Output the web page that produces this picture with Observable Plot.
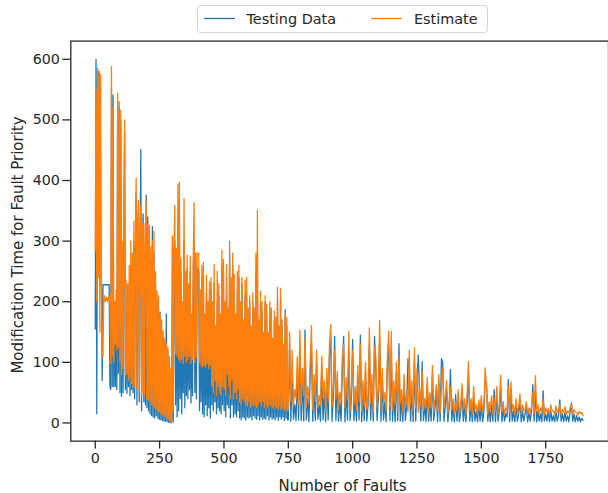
<!DOCTYPE html>
<html>
<head>
<meta charset="utf-8">
<script src="https://cdn.jsdelivr.net/npm/d3@7"></script>
<script src="https://cdn.jsdelivr.net/npm/@observablehq/plot@0.6"></script>
<style>
  html, body { margin: 0; padding: 0; background: #fff; overflow: hidden; }
  #wrap { position: relative; width: 608px; height: 493px; overflow: hidden; font-family: "DejaVu Sans", sans-serif; }
  #chart { position: absolute; left: 0; top: 0; }
  #overlay { position: absolute; left: 0; top: 0; pointer-events: none; }
</style>
</head>
<body>
<div id="wrap">
  <div id="chart"></div>
  <svg id="overlay" width="608" height="493"></svg>
</div>
<script>
// ---- data ----
// Faults 0-747 read every 3 faults; faults 750-1895 read every 5 faults.
const denseStart = 0, denseStep = 3;
const sparseStart = 750, sparseStep = 5;
const xTicks = [0, 250, 500, 750, 1000, 1250, 1500, 1750];
const yTicks = [0, 100, 200, 300, 400, 500, 600];
const seriesNames = ["Testing Data", "Estimate"];
const seriesColors = ["#1f77b4", "#ff7f0e"];

// Testing Data, faults 0-297 (step 3)
const testEarly = [
  155, 600, 15, 583, 560, 580, 228, 228, 228, 70,
  228, 228, 228, 228, 228, 228, 228, 228, 228, 60,
  55, 552, 60, 541, 60, 180, 60, 200, 55, 530,
  82, 522, 50, 500, 44, 280, 50, 300, 480, 55,
  200, 49, 210, 60, 230, 45, 270, 55, 240, 50,
  300, 40, 280, 380, 30, 300, 340, 35, 280, 451,
  20, 300, 345, 35, 280, 30, 376, 25, 340, 20,
  300, 15, 270, 12, 324, 10, 280, 8, 230, 12,
  200, 8, 190, 6, 183, 5, 150, 4, 140, 3,
  130, 3, 180, 2, 120, 1, 100, 0, 80, 1
];
// Testing Data, faults 300-597 (step 3)
const testMid = [
  308, 2, 285, 300, 30, 270, 10, 330, 20, 300,
  40, 250, 15, 190, 50, 300, 25, 230, 45, 255,
  40, 210, 55, 250, 33, 170, 45, 260, 300, 50,
  260, 40, 250, 255, 250, 20, 200, 35, 240, 15,
  230, 10, 170, 30, 215, 12, 190, 25, 220, 8,
  220, 30, 190, 20, 230, 35, 150, 15, 200, 25,
  210, 20, 170, 15, 260, 30, 250, 20, 190, 10,
  240, 30, 180, 25, 280, 8, 220, 30, 260, 10,
  210, 15, 170, 10, 220, 20, 240, 8, 190, 5,
  230, 10, 160, 8, 212, 5, 220, 10, 180, 8
];
// Testing Data, faults 600-747 (step 3)
const testLate = [
  200, 10, 150, 5, 200, 12, 180, 8, 250, 6,
  250, 12, 160, 5, 200, 10, 185, 6, 140, 8,
  200, 6, 180, 12, 140, 5, 190, 10, 175, 6,
  130, 8, 170, 5, 160, 10, 200, 4, 150, 10,
  205, 6, 160, 10, 120, 4, 187, 8, 160, 5
];
// Testing Data, faults 750-995 (step 5)
const testTail1 = [
  5, 130, 3, 90, 6, 30, 4, 80, 5, 120,
  4, 70, 3, 153, 5, 40, 2, 80, 130, 3,
  60, 4, 100, 6, 30, 3, 95, 5, 50, 2,
  70, 5, 110, 140, 3, 45, 143, 4, 70, 3,
  35, 3, 90, 143, 2, 55, 5, 120, 4, 40
];
// Testing Data, faults 1000-1495 (step 5)
const testTail2 = [
  138, 4, 40, 3, 80, 5, 145, 2, 55, 4,
  85, 3, 30, 130, 5, 60, 3, 143, 90, 4,
  40, 140, 3, 70, 5, 35, 2, 95, 130, 4,
  120, 3, 50, 2, 85, 4, 131, 3, 40, 2,
  65, 4, 30, 106, 90, 3, 55, 2, 100, 3,
  70, 112, 45, 3, 101, 4, 30, 2, 60, 3,
  35, 3, 80, 4, 25, 50, 2, 65, 3, 106,
  100, 3, 30, 55, 2, 25, 88, 3, 30, 2,
  47, 3, 40, 2, 20, 50, 3, 28, 2, 35,
  80, 3, 30, 2, 45, 3, 20, 2, 30, 3
];
// Testing Data, faults 1500-1895 (step 5)
const testTail3 = [
  30, 2, 20, 70, 68, 3, 25, 2, 30, 3,
  55, 2, 45, 3, 20, 60, 2, 25, 3, 15,
  10, 72, 2, 50, 3, 20, 2, 28, 3, 15,
  35, 2, 20, 3, 15, 25, 2, 18, 3, 20,
  63, 3, 55, 2, 20, 3, 15, 2, 53, 3,
  15, 3, 23, 2, 20, 3, 12, 2, 18, 3,
  12, 38, 3, 15, 2, 18, 3, 12, 2, 20,
  33, 3, 15, 2, 12, 3, 10, 2, 8, 4
];

// Estimate, faults 0-297 (step 3)
const estEarly = [
  285, 550, 200, 585, 240, 580, 150, 575, 240, 108,
  110, 205, 210, 200, 205, 208, 200, 205, 210, 200,
  98, 588, 110, 520, 100, 200, 130, 220, 120, 544,
  125, 530, 100, 516, 80, 300, 90, 316, 500, 76,
  235, 80, 230, 70, 260, 76, 300, 65, 280, 60,
  333, 60, 300, 404, 55, 340, 367, 50, 300, 359,
  45, 330, 50, 329, 45, 300, 367, 40, 327, 38,
  326, 35, 290, 30, 300, 28, 316, 25, 250, 22,
  218, 20, 210, 18, 180, 16, 170, 14, 152, 12,
  140, 10, 130, 8, 125, 6, 110, 3, 90, 2
];
// Estimate, faults 300-597 (step 3)
const estMid = [
  308, 20, 290, 359, 114, 288, 110, 394, 105, 397,
  100, 272, 105, 200, 98, 370, 110, 250, 100, 277,
  105, 230, 110, 275, 98, 180, 105, 280, 363, 100,
  280, 110, 280, 280, 280, 100, 220, 95, 260, 92,
  265, 95, 180, 92, 244, 98, 200, 90, 233, 95,
  240, 60, 200, 50, 261, 70, 160, 45, 250, 60,
  230, 50, 180, 45, 285, 60, 270, 55, 200, 45,
  261, 80, 190, 60, 300, 40, 240, 70, 280, 40,
  245, 50, 180, 40, 250, 55, 260, 35, 200, 30,
  240, 40, 170, 35, 235, 30, 240, 28, 190, 35
];
// Estimate, faults 600-747 (step 3)
const estLate = [
  210, 25, 160, 30, 215, 28, 190, 30, 280, 25,
  351, 30, 170, 35, 218, 28, 200, 35, 150, 25,
  210, 30, 196, 24, 150, 28, 200, 30, 190, 25,
  140, 24, 185, 28, 175, 25, 224, 22, 160, 28,
  222, 22, 170, 25, 130, 20, 180, 22, 174, 20
];
// Estimate, faults 750-995 (step 5)
const estTail1 = [
  25, 150, 35, 120, 28, 55, 40, 109, 30, 153,
  30, 90, 45, 140, 25, 60, 38, 100, 161, 22,
  80, 35, 120, 25, 45, 30, 110, 42, 70, 20,
  90, 35, 130, 162, 28, 60, 120, 40, 85, 22,
  50, 33, 110, 130, 25, 75, 38, 151, 20, 60
];
// Estimate, faults 1000-1495 (step 5)
const estTail2 = [
  120, 30, 60, 22, 95, 35, 130, 20, 70, 28,
  100, 22, 45, 157, 32, 80, 18, 125, 110, 25,
  60, 169, 22, 90, 35, 50, 20, 110, 152, 28,
  151, 22, 70, 30, 100, 20, 110, 32, 55, 18,
  80, 26, 45, 18, 120, 30, 70, 20, 124, 25,
  90, 18, 60, 28, 85, 20, 40, 26, 75, 16,
  50, 25, 95, 18, 40, 63, 22, 80, 16, 60,
  90, 24, 45, 71, 16, 35, 60, 22, 40, 15,
  35, 20, 55, 15, 30, 65, 22, 40, 14, 50,
  101, 20, 40, 15, 60, 22, 30, 14, 38, 20
];
// Estimate, faults 1500-1895 (step 5)
const estTail3 = [
  45, 18, 30, 91, 60, 14, 35, 22, 45, 15,
  40, 20, 60, 14, 30, 79, 18, 35, 13, 25,
  20, 60, 16, 68, 22, 30, 13, 40, 18, 25,
  48, 14, 30, 20, 22, 35, 13, 25, 18, 27,
  50, 15, 78, 20, 30, 14, 25, 18, 40, 13,
  25, 18, 23, 13, 30, 20, 20, 14, 28, 18,
  20, 30, 13, 22, 18, 27, 14, 20, 17, 25,
  31, 14, 22, 18, 18, 13, 19, 16, 17, 12
];

// ---- build tables ----
function toRows(dense, sparse) {
  const a = dense.map((v, i) => ({ fault: denseStart + i * denseStep, value: v }));
  const b = sparse.map((v, i) => ({ fault: sparseStart + i * sparseStep, value: v }));
  return a.concat(b);
}
const testRows = toRows([...testEarly, ...testMid, ...testLate], [...testTail1, ...testTail2, ...testTail3]);
const estRows = toRows([...estEarly, ...estMid, ...estLate], [...estTail1, ...estTail2, ...estTail3]);

const chart = Plot.plot({
  width: 614,
  height: 493,
  marginLeft: 71,
  marginRight: 0,
  marginTop: 41,
  marginBottom: 48,
  x: { domain: [-95, 1994] },
  y: { domain: [-30, 630] },
  style: { fontFamily: "DejaVu Sans, sans-serif", fontSize: "14.4px", color: "#262626", background: "white" },
  marks: [
    Plot.line(testRows, { x: "fault", y: "value", stroke: seriesColors[0], strokeWidth: 1.3 }),
    Plot.line(estRows, { x: "fault", y: "value", stroke: seriesColors[1], strokeWidth: 1.3 }),
    Plot.frame({ stroke: "#262626", strokeWidth: 1.3 }),
    Plot.axisX({ ticks: xTicks, tickSize: 8, tickPadding: 4, label: null, tickFormat: d3.format("d"), strokeWidth: 1.3 }),
    Plot.axisY({ ticks: yTicks, tickSize: 8, tickPadding: 3, label: null, tickFormat: d3.format("d"), strokeWidth: 1.3 })
  ]
});
document.getElementById("chart").appendChild(chart);

// ---- legend and axis titles (overlay) ----
const ov = d3.select("#overlay");
ov.append("rect").attr("x", 197.5).attr("y", 5.5).attr("width", 290).attr("height", 27)
  .attr("rx", 3).attr("fill", "white").attr("stroke", "#d6d6d6").attr("stroke-width", 1);
const legendItems = [
  { name: seriesNames[0], color: seriesColors[0], x1: 204, x2: 235, tx: 246.5 },
  { name: seriesNames[1], color: seriesColors[1], x1: 371, x2: 402, tx: 414 }
];
for (const it of legendItems) {
  ov.append("line").attr("x1", it.x1).attr("x2", it.x2).attr("y1", 18.5).attr("y2", 18.5)
    .attr("stroke", it.color).attr("stroke-width", 1.3);
  ov.append("text").attr("x", it.tx).attr("y", 24.2).attr("fill", "#262626")
    .attr("font-family", "DejaVu Sans, sans-serif").attr("font-size", "14.4px").text(it.name);
}
ov.append("text").attr("x", 342.5).attr("y", 490.5).attr("text-anchor", "middle")
  .attr("fill", "#262626").attr("font-family", "DejaVu Sans, sans-serif").attr("font-size", "15px")
  .text("Number of Faults");
ov.append("text").attr("transform", "translate(22.6,245) rotate(-90)").attr("text-anchor", "middle")
  .attr("fill", "#262626").attr("font-family", "DejaVu Sans, sans-serif").attr("font-size", "15px")
  .text("Modification Time for Fault Priority");
</script>
</body>
</html>
